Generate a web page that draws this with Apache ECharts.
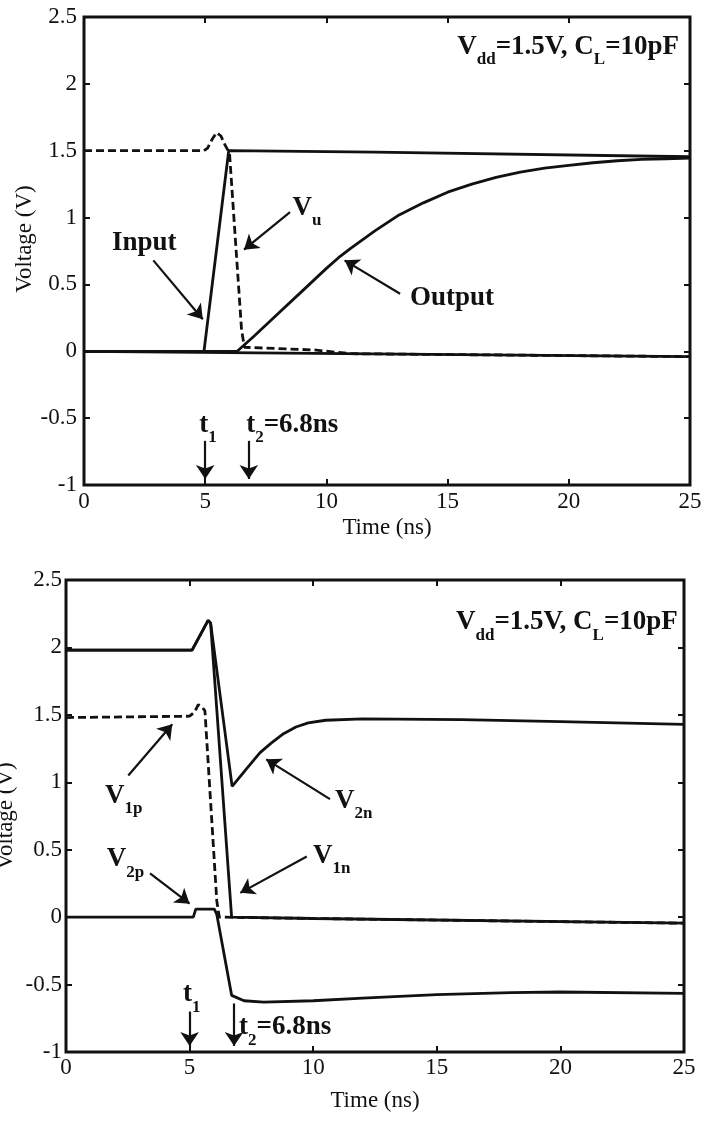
<!DOCTYPE html>
<html><head><meta charset="utf-8">
<script src="https://cdn.jsdelivr.net/npm/echarts@6/dist/echarts.min.js"></script>
<style>html,body{margin:0;padding:0;background:#fff}#c{width:705px;height:1122px}</style>
</head><body><div id="c"></div>
<script>
// ---- tick values ----
const timeTicks = [0, 5, 10, 15, 20, 25];
const voltTicks = [-1, -0.5, 0, 0.5, 1, 1.5, 2, 2.5];

// ---- top panel (t in ns, V) ----
const topInput  = [[0,0],[4.95,0],[5.97,1.5],[12,1.49],[25,1.455]];
const topOutput = [[0,0],[6.32,0],[7,0.11],[8,0.28],[9,0.45],[10,0.62],[10.5,0.7],[11,0.77],[12,0.9],[13,1.02],[14,1.11],[15,1.19],[16,1.25],[17,1.3],[18,1.34],[19,1.37],[20,1.39],[21,1.41],[22,1.425],[23,1.435],[24,1.44],[25,1.445]];
const topVu     = [[0,1.5],[4.95,1.5],[5.1,1.52],[5.3,1.59],[5.47,1.635],[5.65,1.61],[5.8,1.55],[5.9,1.515],[6.0,1.49],[6.5,0.16],[6.62,0.03],[8,0.02],[9.5,0.01],[11,-0.018],[25,-0.04]];
const topZero   = [[0,0],[25,-0.04]];

// ---- bottom panel ----
const botV2n = [[0,1.98],[5.1,1.98],[5.75,2.2],[5.85,2.18],[6.72,0.97],[7.3,1.1],[7.85,1.22],[8.3,1.29],[8.8,1.36],[9.3,1.41],[9.8,1.44],[10.5,1.46],[12,1.47],[16,1.465],[20,1.45],[25,1.43]];
const botV1n = [[0,1.98],[5.1,1.98],[5.75,2.2],[5.85,2.18],[6.7,0],[10,-0.01],[25,-0.045]];
const botV1p = [[0,1.48],[5.0,1.49],[5.2,1.52],[5.35,1.575],[5.5,1.56],[5.62,1.53],[6.1,0.12],[6.2,0],[10,-0.01],[25,-0.045]];
const botV2p = [[0,0],[5.15,0],[5.25,0.06],[6.0,0.06],[6.1,0.02],[6.7,-0.58],[7.2,-0.62],[8,-0.63],[10,-0.62],[12,-0.6],[15,-0.575],[18,-0.56],[20,-0.555],[25,-0.565]];

// ---- annotations (data coordinates) ----
const topNotes = [
  {text:'{v|Input}', t:1.15, v:0.81},
  {text:'{v|V}{s|u}', t:8.6, v:1.075},
  {text:'{v|Output}', t:13.45, v:0.4},
  {text:'{v|V}{s|dd}{v|=1.5V, C}{s|L}{v|=10pF}', t:24.55, v:2.278, align:'right'},
  {text:'{v|t}{s|1}', t:4.75, v:-0.55},
  {text:'{v|t}{s|2}{v|=6.8ns}', t:6.69, v:-0.55}
];
const topArrows = [
  [[2.86,0.68],[4.9,0.24]],
  [[8.5,1.04],[6.6,0.76]],
  [[13.04,0.43],[10.75,0.68]],
  [[5,-0.67],[5,-0.955]],
  [[6.8,-0.67],[6.8,-0.955]]
];
const botNotes = [
  {text:'{v|V}{s|dd}{v|=1.5V, C}{s|L}{v|=10pF}', t:24.75, v:2.185, align:'right'},
  {text:'{v|V}{s|1p}', t:1.58, v:0.9},
  {text:'{v|V}{s|2n}', t:10.88, v:0.864},
  {text:'{v|V}{s|2p}', t:1.65, v:0.43},
  {text:'{v|V}{s|1n}', t:9.99, v:0.455},
  {text:'{v|t}{s|1}', t:4.73, v:-0.573},
  {text:'{v|t}{s|2}{v|=6.8ns}', t:7.0, v:-0.817}
];
const botArrows = [
  [[2.52,1.05],[4.3,1.43]],
  [[10.68,0.875],[8.1,1.17]],
  [[3.4,0.325],[5.0,0.1]],
  [[9.74,0.45],[7.05,0.18]],
  [[5,-0.7],[5,-0.955]],
  [[6.8,-0.64],[6.8,-0.955]]
];

const FONT = "'Liberation Serif','Times New Roman',serif";
const INK = '#111111';

const rich = {
  v:{fontFamily:FONT,fontSize:27,fontWeight:'bold',color:INK,lineHeight:30,verticalAlign:'middle'},
  s:{fontFamily:FONT,fontSize:17,fontWeight:'bold',color:INK,lineHeight:43,verticalAlign:'bottom'}
};

function xAxes(g, labelMargin, nameGap) {
  const base = {type:'value', gridIndex:g, min:timeTicks[0], max:timeTicks[timeTicks.length-1],
    interval:timeTicks[1]-timeTicks[0], axisLine:{show:false, onZero:false}, splitLine:{show:false},
    axisTick:{show:true, inside:true, length:6, lineStyle:{color:INK, width:2}}};
  return [
    Object.assign({}, base, {position:'bottom',
      axisLabel:{color:INK, fontFamily:FONT, fontSize:23, margin:labelMargin},
      name:'Time (ns)', nameLocation:'middle', nameGap:nameGap, nameMoveOverlap:false,
      nameTextStyle:{fontFamily:FONT, fontSize:23, color:INK}}),
    Object.assign({}, base, {position:'top', axisLabel:{show:false}})
  ];
}
function yAxes(g, labelMargin, nameGap, pad) {
  const base = {type:'value', gridIndex:g, min:voltTicks[0], max:voltTicks[voltTicks.length-1],
    interval:voltTicks[1]-voltTicks[0], axisLine:{show:false, onZero:false}, splitLine:{show:false},
    axisTick:{show:true, inside:true, length:6, lineStyle:{color:INK, width:2}}};
  return [
    Object.assign({}, base, {position:'left',
      axisLabel:{color:INK, fontFamily:FONT, fontSize:23, margin:labelMargin},
      name:'Voltage (V)', nameLocation:'middle', nameGap:nameGap, nameMoveOverlap:false,
      nameTextStyle:{fontFamily:FONT, fontSize:23, color:INK, padding:pad}}),
    Object.assign({}, base, {position:'right', axisLabel:{show:false}})
  ];
}

function line(data, xi, yi, dashed) {
  return {type:'line', xAxisIndex:xi, yAxisIndex:yi, data:data, showSymbol:false, symbol:'none',
    silent:true, animation:false,
    lineStyle:{color:INK, width:2.8, type: dashed ? [8,4] : 'solid'}};
}
function notes(series, list, arrows) {
  series.markPoint = {symbol:'circle', symbolSize:1, silent:true, animation:false,
    itemStyle:{color:'rgba(0,0,0,0)'},
    label:{show:true, position:'inside', rich:rich, color:INK},
    data: list.map(n => ({coord:[n.t, n.v],
      label:{formatter:n.text, align:n.align || 'left', verticalAlign:'middle'}}))};
  series.markLine = {symbol:['none','arrow'], symbolSize:14, silent:true, animation:false,
    label:{show:false}, lineStyle:{color:INK, width:2.2, type:'solid'},
    data: arrows.map(a => [{coord:a[0]},{coord:a[1]}])};
  return series;
}

const option = {
  backgroundColor:'#fff',
  animation:false,
  grid:[
    {left:84, top:17, width:606, height:468, show:true, borderColor:INK, borderWidth:3, backgroundColor:'transparent', outerBoundsMode:'none', containLabel:false},
    {left:66, top:580, width:618, height:472, show:true, borderColor:INK, borderWidth:3, backgroundColor:'transparent', outerBoundsMode:'none', containLabel:false}
  ],
  xAxis: xAxes(0, 5, 31).concat(xAxes(1, 4, 37)),
  yAxis: yAxes(0, 7, 48, [0,0,0,24]).concat(yAxes(1, 4, 49, [0,0,0,0])),
  series:[
    notes(line(topZero, 0, 0, false), topNotes, topArrows),
    line(topInput, 0, 0, false),
    line(topOutput, 0, 0, false),
    line(topVu, 0, 0, true),
    notes(line(botV2p, 2, 2, false), botNotes, botArrows),
    line(botV2n, 2, 2, false),
    line(botV1n, 2, 2, false),
    line(botV1p, 2, 2, true)
  ]
};
const chart = echarts.init(document.getElementById('c'), null, {renderer:'canvas'});
chart.setOption(option);
</script></body></html>
